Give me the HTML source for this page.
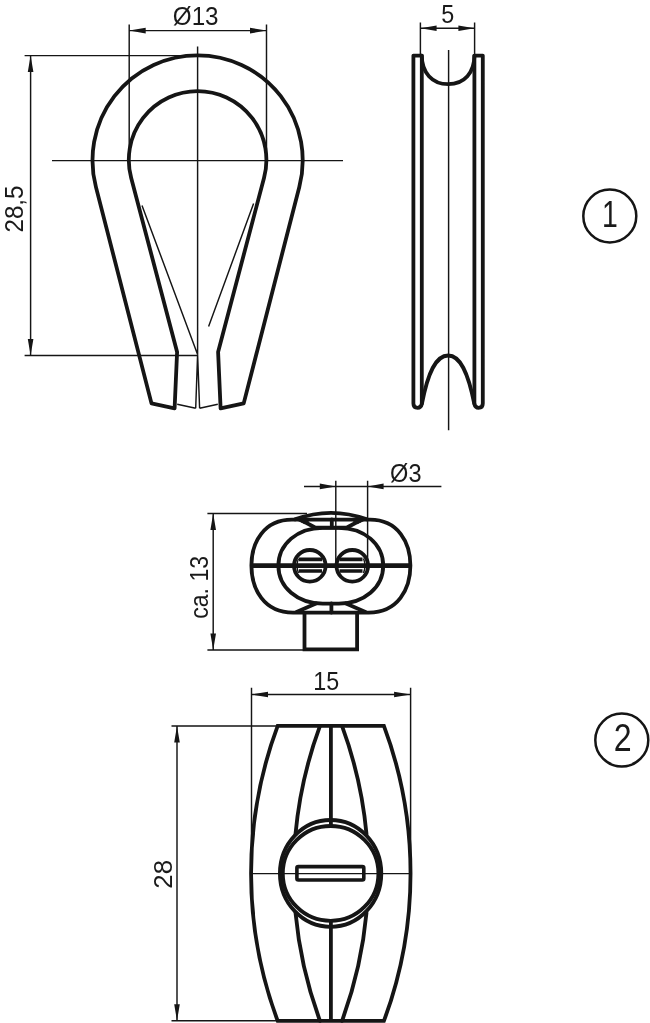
<!DOCTYPE html>
<html><head><meta charset="utf-8"><title>Drawing</title>
<style>
html,body{margin:0;padding:0;background:#fff;}
svg{display:block;will-change:transform;filter:grayscale(1);}
text{font-family:"Liberation Sans",sans-serif;fill:#1a1a1a;}
.k{fill:none;stroke:#151515;stroke-width:3.8;stroke-linejoin:round;stroke-linecap:round;}
.t{fill:none;stroke:#151515;stroke-width:1.45;}
.a{fill:#151515;stroke:none;}
</style></head><body>
<svg width="650" height="1023" viewBox="0 0 650 1023">
<rect width="650" height="1023" fill="#fff"/>

<!-- ===== Figure 1: thimble front ===== -->
<g id="thimble">
<path class="k" d="M151.5 403.4 L95.9 186.9 A105.1 105.1 0 1 1 299.3 186.9 L243.7 403.4 L220.6 408.3 L218.1 352 L264 178 A68.8 68.8 0 1 0 131.2 178 L177.1 352 L174.6 408.3 Z"/>
<path class="t" d="M52 160.6H343 M197.6 46.6V354.6 M197.6 354.6L195.7 408.2 M197.6 354.6L199.6 408.2 M177.2 404.2L195.7 408.2 M199.6 408.2L217.8 404.2 M142 205.4L197.6 354.6 M253.6 203.5L208.6 326.6"/>
<!-- dim Ø13 -->
<path class="t" d="M129.2 24.6V160 M266.5 24.6V160 M129.2 30.6H266.5"/>
<path class="a" d="M129.2 30.6l16.5 -2.8v5.6z M266.5 30.6l-16.5 -2.8v5.6z"/>
<text x="195.7" y="25.2" font-size="25.5" text-anchor="middle" textLength="45.8" lengthAdjust="spacingAndGlyphs">Ø13</text>
<!-- dim 28,5 -->
<path class="t" d="M24.6 55.6H197.6 M24.6 355.4H197.6 M30.6 55.6V355.4"/>
<path class="a" d="M30.6 55.6l-2.8 16.5h5.6z M30.6 355.4l-2.8 -16.5h5.6z"/>
<text transform="translate(22.6 209) rotate(-90)" font-size="25.5" text-anchor="middle" textLength="47" lengthAdjust="spacingAndGlyphs">28,5</text>
</g>

<!-- ===== Figure 1: thimble side ===== -->
<g id="side">
<path class="k" d="M413.4 55.6H421.8 C421.8 72.5 432 84.2 448.2 84.2 C464.5 84.2 474.4 72.5 474.4 55.6 H482.8 V403.5 Q482.8 407.8 478.6 407.8 Q475.2 407.8 474.2 403.5 C468 372 460 355.5 448.2 355.5 C436 355.5 428 372 422 403.5 Q421 407.8 417.6 407.8 Q413.4 407.8 413.4 403.5 Z"/>
<path class="k" d="M421.8 55.6V403.5 M474.4 55.6V403.5"/>
<path class="t" d="M448.6 50V430.3 M420.4 22.6V55 M474.6 22.6V55 M420.6 28.2H474.4"/>
<path class="a" d="M420.6 28.2l16 -2.8v5.6z M474.4 28.2l-16 -2.8v5.6z"/>
<text x="447.8" y="22.6" font-size="25.5" text-anchor="middle" textLength="13" lengthAdjust="spacingAndGlyphs">5</text>
</g>

<!-- ===== balloons ===== -->
<circle cx="609.8" cy="216" r="26.5" fill="none" stroke="#151515" stroke-width="2.5"/>
<text x="609.8" y="226.8" font-size="36.3" text-anchor="middle" textLength="15.8" lengthAdjust="spacingAndGlyphs">1</text>
<circle cx="621.8" cy="740" r="26.5" fill="none" stroke="#151515" stroke-width="2.5"/>
<text x="622.6" y="750.8" font-size="38" text-anchor="middle" textLength="17.9" lengthAdjust="spacingAndGlyphs">2</text>

<!-- ===== Figure 2: clamp top view ===== -->
<g id="clamptop">
<!-- outer body -->
<path class="k" d="M251.4 565.6 C251.4 542.7 263.6 519.7 292 519.7 H370 C398.3 519.7 410.4 542.7 410.4 565.6 C410.4 589.1 397.9 612.6 368.8 612.6 H293 C263.9 612.6 251.4 589.1 251.4 565.6 Z"/>
<path class="k" d="M295 519.4 Q331 506.2 367 519.4"/>
<!-- lens top -->
<path class="k" d="M301 520 L315.5 527.7 H346.5 L361 520 M331.8 519.5V527.7"/>
<path d="M296 519.6H311L304.5 523.6Z M366 519.6H351L357.5 523.6Z" fill="#151515" stroke="#151515" stroke-width="1" stroke-linejoin="round"/>
<!-- inner oval -->
<path class="k" d="M322.8 527.8000000000001 H338.8 C364.11 527.80 383.20 544.10 383.20 565.70 C383.20 587.30 364.11 603.60 338.80 603.60 H322.8 C297.49 603.60 278.40 587.30 278.40 565.70 C278.40 544.10 297.49 527.80 322.80 527.80Z"/>
<!-- bottom wedge -->
<path class="k" d="M316 603.5 L296.5 612 M346 603.5 L365.5 612 M331.4 603.5V612.5"/>
<!-- screw rect -->
<path class="k" style="stroke-linejoin:miter;stroke-linecap:butt" d="M304.5 612.5V649.4H357.1V612.5"/>
<!-- centre thick line -->
<path d="M252 565.6H410" fill="none" stroke="#151515" stroke-width="4.7"/>
<!-- holes -->
<circle class="k" cx="309.8" cy="565.8" r="15.8"/>
<circle class="k" cx="352.3" cy="565.8" r="15.8"/>
<path d="M299 559.4H322 M299 571H322 M339.5 559.4H362.5 M339.5 571H362.5" fill="none" stroke="#151515" stroke-width="3.7"/>
<path class="t" d="M298.5 558.5 Q295.5 565.8 298.5 573 M363.5 558.5 Q366.5 565.8 363.5 573"/>
<!-- dims -->
<path class="t" d="M335.8 480.8V566 M367.6 480.8V566 M304 486.4H441.4"/>
<path class="a" d="M335.8 486.4l-16 -2.8v5.6z M367.6 486.4l16 -2.8v5.6z"/>
<text x="405.8" y="482.1" font-size="25.5" text-anchor="middle" textLength="31.4" lengthAdjust="spacingAndGlyphs">Ø3</text>
<path class="t" d="M207.4 513.4H307 M207.4 649.9H304.5 M213.2 513.4V649.9"/>
<path class="a" d="M213.2 513.4l-2.8 16.5h5.6z M213.2 649.9l-2.8 -16.5h5.6z"/>
<text transform="translate(208.3 587.3) rotate(-90)" font-size="25.5" text-anchor="middle" textLength="63" lengthAdjust="spacingAndGlyphs">ca. 13</text>
</g>

<!-- ===== Figure 2: clamp front view ===== -->
<g id="clampfront">
<path class="k" style="stroke-linejoin:miter;stroke-linecap:butt" d="M277.7 725.9 A421.7 421.7 0 0 0 277.7 1020.9 H383.9 A421.7 421.7 0 0 0 383.9 725.9 Z"/>
<path class="k" d="M320.0 725.9 A425.75 425.75 0 0 0 295.5 834 M295.5 912.8 A425.75 425.75 0 0 0 320.0 1020.9 M342.0 725.9 A425.75 425.75 0 0 1 366.5 834 M366.5 912.8 A425.75 425.75 0 0 1 342.0 1020.9"/>
<path d="M330.9 725.9V826 M330.9 921V1020.9" fill="none" stroke="#151515" stroke-width="3.8"/>
<ellipse class="k" cx="330.6" cy="873.4" rx="50.7" ry="53.4"/>
<ellipse class="k" cx="330.6" cy="873.4" rx="47.8" ry="47.4"/>
<rect x="296.9" y="866.6" width="66.9" height="13.4" rx="1.5" fill="none" stroke="#151515" stroke-width="3.6"/>
<path class="t" d="M251.5 873.6H410.6 M251.5 687.7V873 M410.6 687.7V873 M251.5 694.5H410.6"/>
<path class="a" d="M251.5 694.5l16.5 -2.8v5.6z M410.6 694.5l-16.5 -2.8v5.6z"/>
<text x="326.2" y="689.8" font-size="25.5" text-anchor="middle" textLength="25.9" lengthAdjust="spacingAndGlyphs">15</text>
<path class="t" d="M171.5 725.9H277.7 M171.5 1020.8H277.7 M177 725.9V1020.8"/>
<path class="a" d="M177 725.9l-2.8 16.5h5.6z M177 1020.8l-2.8 -16.5h5.6z"/>
<text transform="translate(171.9 874.3) rotate(-90)" font-size="25.5" text-anchor="middle" textLength="28.7" lengthAdjust="spacingAndGlyphs">28</text>
</g>
</svg>
</body></html>
